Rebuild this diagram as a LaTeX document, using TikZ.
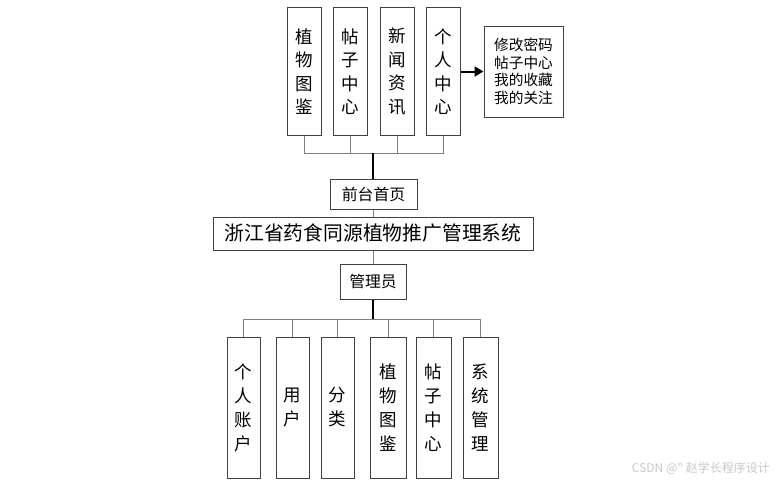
\documentclass[tikz,border=0pt]{standalone}
\usepackage{fontspec}
\newfontfamily\cjk{Noto Sans CJK SC}
\usetikzlibrary{arrows.meta}
\definecolor{boxline}{RGB}{64,64,64}
\definecolor{branchline}{RGB}{128,128,128}
\definecolor{wm}{RGB}{200,200,200}
\begin{document}
\begin{tikzpicture}[x=1pt,y=-1pt,
  box/.style={draw=boxline,line width=1pt,fill=white,inner sep=0pt,align=center},
  vbox/.style={box,font=\cjk\fontsize{17.5}{23.5}\selectfont,minimum height=128pt},
  bvbox/.style={box,font=\cjk\fontsize{17.5}{24}\selectfont,minimum height=141pt},
  branch/.style={draw=branchline,line width=1pt},
  trunk/.style={draw=black,line width=2pt},
  arr/.style={draw=black,line width=2pt,-{Triangle[length=9pt,width=10pt]}}]
\useasboundingbox (0,0) rectangle (779,485);
% top
\node[vbox,minimum width=34pt] (t1) at (304,71.5) {植\\物\\图\\鉴};
\node[vbox,minimum width=34pt] (t2) at (350,71.5) {帖\\子\\中\\心};
\node[vbox,minimum width=34pt] (t3) at (397.5,71.5) {新\\闻\\资\\讯};
\node[vbox,minimum width=34pt] (t4) at (443.5,71.5) {个\\人\\中\\心};
\node[box,minimum width=79pt,minimum height=91pt,font=\cjk\fontsize{14.7}{17.7}\selectfont] (pc) at (523.5,71.5) {修改密码\\帖子中心\\我的收藏\\我的关注};
\draw[arr] (t4.east |- pc.west) -- (pc.west);
\coordinate (tbus) at (373,153);
\node[box,minimum width=87pt,minimum height=30pt,font=\cjk\fontsize{15.8}{18}\selectfont] (front) at (373.5,194) {前台首页};
\node[box,minimum width=320pt,minimum height=33pt,font=\cjk\fontsize{19.8}{22}\selectfont] (title) at (373,233.5) {浙江省药食同源植物推广管理系统};
\node[box,minimum width=66pt,minimum height=35pt,font=\cjk\fontsize{15.8}{18}\selectfont] (admin) at (373,281.5) {管理员};
\foreach \n in {t1,t2,t3,t4} \draw[branch] (\n.south) |- (tbus);
\draw[trunk] (tbus) -- (tbus |- front.north);
\draw[branch] (front.south) -- (front.south |- title.north);
\draw[branch] (title.south -| admin.north) -- (admin.north);
% bottom
\node[bvbox,minimum width=33pt] (b1) at (243.5,407.5) {个\\人\\账\\户};
\node[bvbox,minimum width=33pt] (b2) at (292.5,407.5) {用\\户};
\node[bvbox,minimum width=33pt] (b3) at (337.5,407.5) {分\\类};
\node[bvbox,minimum width=36pt] (b4) at (388,407.5) {植\\物\\图\\鉴};
\node[bvbox,minimum width=35pt] (b5) at (433.5,407.5) {帖\\子\\中\\心};
\node[bvbox,minimum width=35pt] (b6) at (480.5,407.5) {系\\统\\管\\理};
\coordinate (bbus) at (373,319);
\foreach \n in {b1,b2,b3,b4,b5,b6} \draw[branch] (\n.north) |- (bbus);
\draw[trunk] (admin.south) -- (bbus);
\node[font=\cjk\fontsize{12}{14}\selectfont,text=wm,anchor=east,inner sep=0pt] (wmk) at (770,468) {CSDN @" 赵学长程序设计};
\end{tikzpicture}
\end{document}
